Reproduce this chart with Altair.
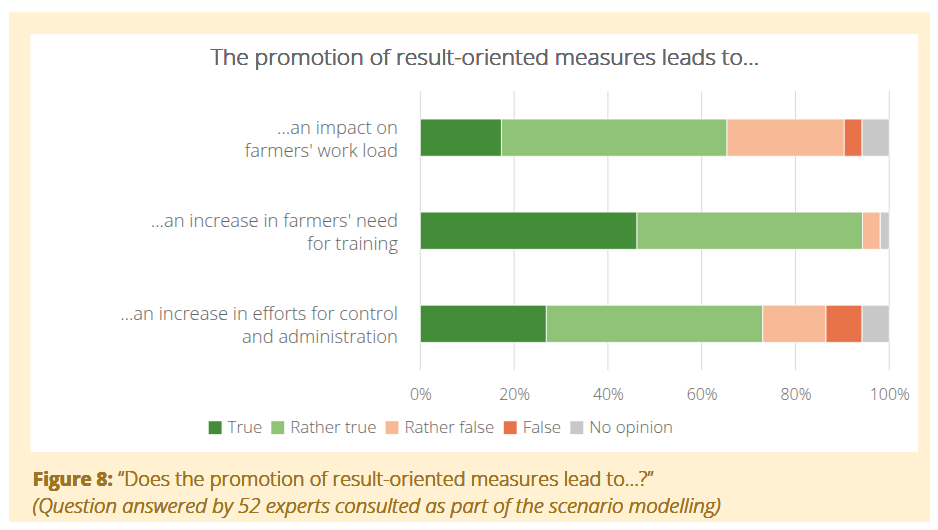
import altair as alt
import pandas as pd

# ---- data ----
statements = [
    "…an impact on |farmers' work load",
    "…an increase in farmers' need|for training",
    "…an increase in efforts for control|and administration",
]
answers = ["True", "Rather true", "Rather false", "False", "No opinion"]
colors = ["#438C38", "#8FC378", "#F7B996", "#E8734A", "#C8C8C8"]

true_vals = [17.3, 46.2, 26.9]
rather_true_vals = [48.1, 48.1, 46.2]
rather_false_vals = [25.0, 3.8, 13.5]
false_vals = [3.8, 0.0, 7.7]
no_opinion_vals = [5.8, 1.9, 5.8]

tick_values = [0, 0.2, 0.4, 0.6, 0.8, 1.0]

title_text = "The promotion of result-oriented measures leads to…"
caption_bold = "Figure 8:"
caption_rest = "“Does the promotion of result-oriented measures lead to…?”"
caption_line2 = "(Question answered by 52 experts consulted as part of the scenario modelling)"

series = [true_vals, rather_true_vals, rather_false_vals, false_vals, no_opinion_vals]
rows = []
for ai, (ans, vals) in enumerate(zip(answers, series)):
    for si, st in enumerate(statements):
        rows.append({"statement": st, "answer": ans, "value": vals[si], "ord": ai})
df = pd.DataFrame(rows)
grid_df = pd.DataFrame({"t": tick_values})

FONT = "Open Sans"
TEXT_GRAY = "#666666"
CAPTION = "#9B7424"

x_scale = alt.Scale(domain=[0, 1], nice=False)
x_axis = alt.Axis(
    title=None,
    values=tick_values,
    format=".0%",
    labelFont=FONT,
    labelFontSize=16,
    labelFontWeight=300,
    labelColor=TEXT_GRAY,
    labelPadding=16,
    labelFlush=False,
    ticks=False,
    domain=False,
    grid=False,
    zindex=1,
)

# ---- decorations ----
cream = alt.Chart(grid_df).mark_rect(color="#FFF1D1").encode(
    x=alt.value(-414), x2=alt.value(520), y=alt.value(-79), y2=alt.value(445)
)
panel = alt.Chart(grid_df).mark_rect(color="white").encode(
    x=alt.value(-392), x2=alt.value(501), y=alt.value(-57), y2=alt.value(363)
)

grid = alt.Chart(grid_df).mark_rule(color="#D9D9D9", strokeWidth=1).encode(
    x=alt.X("t:Q", scale=x_scale, axis=x_axis)
)

bars = alt.Chart(df).mark_bar(stroke="white", strokeWidth=0.8).encode(
    y=alt.Y(
        "statement:N",
        sort=statements,
        scale=alt.Scale(paddingInner=0.6, paddingOuter=0.3),
        axis=alt.Axis(
            title=None,
            labelExpr="split(datum.label, '|')",
            labelFont=FONT,
            labelFontSize=18.5,
            labelFontWeight=300,
            labelColor=TEXT_GRAY,
            labelLineHeight=23,
            labelPadding=23,
            labelOffset=-10,
            labelLimit=400,
            ticks=False,
            domain=False,
            grid=False,
            zindex=1,
        ),
    ),
    x=alt.X("value:Q", stack="normalize", scale=x_scale, axis=x_axis),
    color=alt.Color(
        "answer:N",
        scale=alt.Scale(domain=answers, range=colors),
        legend=alt.Legend(
            title=None,
            orient="none",
            legendX=-215,
            legendY=330,
            direction="horizontal",
            columns=5,
            columnPadding=7,
            labelOffset=4,
            symbolType="square",
            symbolSize=169,
            symbolStrokeWidth=0,
            labelFont=FONT,
            labelFontSize=17,
            labelFontWeight=300,
            labelColor=TEXT_GRAY,
            zindex=1,
        ),
    ),
    order=alt.Order("ord:Q"),
)

title = alt.Chart(grid_df).mark_text(
    text=title_text, font=FONT, fontSize=23, fontWeight=300, color=TEXT_GRAY,
    align="center", baseline="middle",
).encode(x=alt.value(65), y=alt.value(-33))

cap1a = alt.Chart(grid_df).mark_text(
    text=caption_bold, font=FONT, fontSize=19, fontWeight="bold", color=CAPTION,
    align="left", baseline="alphabetic",
).encode(x=alt.value(-390), y=alt.value(397))
cap1b = alt.Chart(grid_df).mark_text(
    text=caption_rest, font=FONT, fontSize=20, fontWeight=300, color=CAPTION,
    align="left", baseline="alphabetic",
).encode(x=alt.value(-304), y=alt.value(397))
cap2 = alt.Chart(grid_df).mark_text(
    text=caption_line2, font=FONT, fontSize=20.5, fontWeight=300, fontStyle="italic", color=CAPTION,
    align="left", baseline="alphabetic",
).encode(x=alt.value(-390), y=alt.value(425))

chart = alt.layer(cream, panel, grid, bars, title, cap1a, cap1b, cap2).properties(
    width=472,
    height=281,
    autosize=alt.AutoSizeParams(type="none"),
    padding={"left": 415, "top": 82, "right": 41, "bottom": 151},
    background="white",
).configure_view(stroke=None)

chart.save("out.html", embed_options={"renderer": "svg", "actions": False})
